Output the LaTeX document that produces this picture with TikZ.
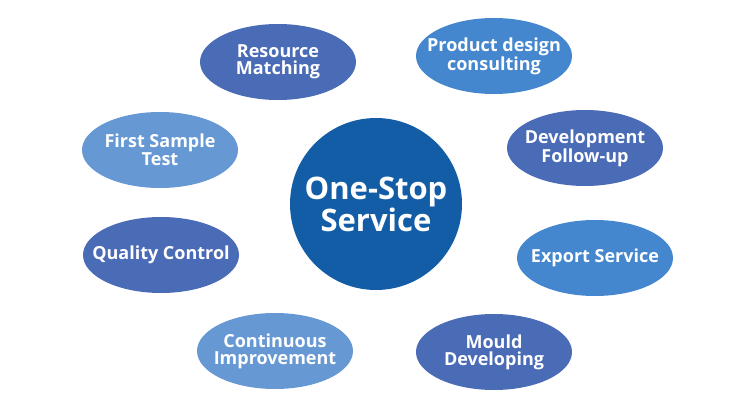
\documentclass[tikz,border=0pt]{standalone}
\usepackage{fontspec}
\setmainfont{Open Sans}
\usetikzlibrary{shapes.geometric}
\definecolor{cdark}{HTML}{4A6BB6}
\definecolor{cmid}{HTML}{4587CE}
\definecolor{clight}{HTML}{6698D4}
\definecolor{ccenter}{HTML}{135DA6}
\tikzset{
  oval/.style={ellipse, minimum width=156pt, minimum height=76pt, inner sep=0pt},
  lbl/.style={text=white, align=center, inner sep=0pt, font=\fontsize{18}{17}\selectfont\bfseries},
  hub/.style={circle, minimum size=172pt, inner sep=0pt, fill=ccenter,
    text=white, align=center, font=\fontsize{31}{27}\selectfont\bfseries}
}
\begin{document}
\begin{tikzpicture}[x=1pt,y=-1pt]
\useasboundingbox[fill=white] (0,0) rectangle (750,409);
\node[hub] (c) at (376,204) {One-Stop\\Service};
\node[oval, fill=cdark, label={[lbl]center:Resource\\Matching}] (rm) at (278,62) {};
\node[oval, fill=cmid, label={[lbl]center:Product design\\consulting}] (pd) at (494,56) {};
\node[oval, fill=clight, label={[lbl]center:First Sample\\Test}] (fs) at (160,150) {};
\node[oval, fill=cdark, label={[lbl]center:Development\\Follow-up}] (df) at (585,148) {};
\node[oval, fill=cdark, label={[lbl]center:Quality Control}] (qc) at (161,255) {};
\node[oval, fill=cmid, label={[lbl]center:Export Service}] (es) at (595,258) {};
\node[oval, fill=clight, label={[lbl]center:Continuous\\Improvement}] (ci) at (275,351) {};
\node[oval, fill=cdark, label={[lbl]center:Mould\\Developing}] (md) at (494,352) {};
\end{tikzpicture}
\end{document}
